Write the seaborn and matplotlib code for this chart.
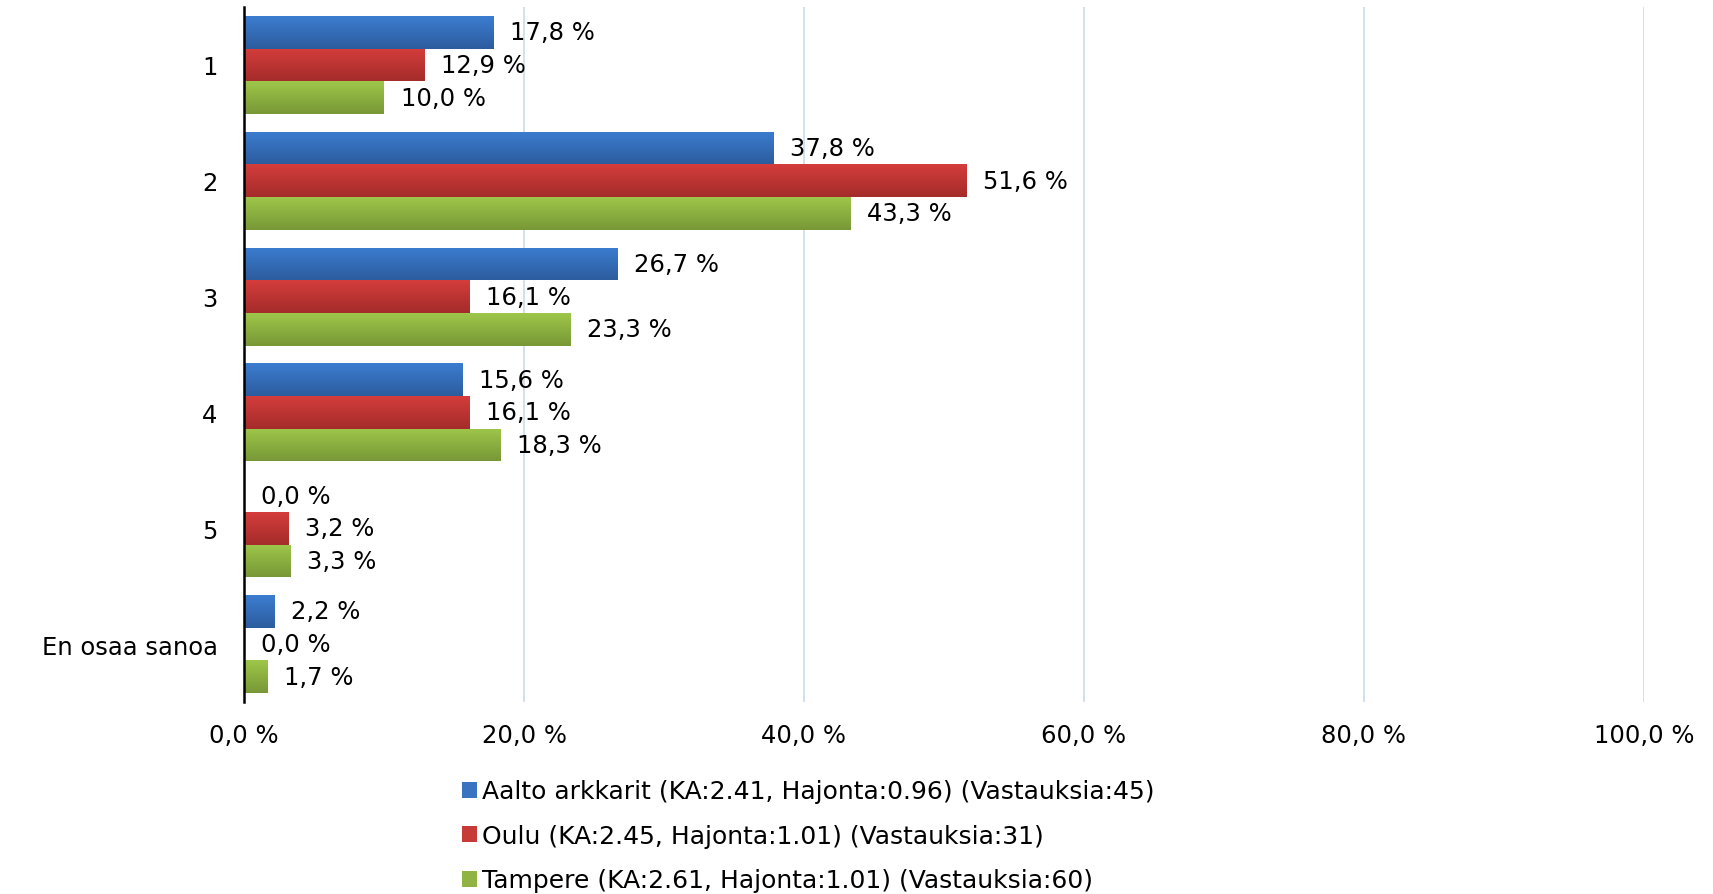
import matplotlib
matplotlib.use("Agg")
import matplotlib.pyplot as plt
import seaborn as sns
import pandas as pd
import numpy as np
from matplotlib.colors import LinearSegmentedColormap
from matplotlib.patches import Patch

categories = ['1', '2', '3', '4', '5', 'En osaa sanoa']
series = ['Aalto arkkarit (KA:2.41, Hajonta:0.96) (Vastauksia:45)',
          'Oulu (KA:2.45, Hajonta:1.01) (Vastauksia:31)',
          'Tampere (KA:2.61, Hajonta:1.01) (Vastauksia:60)']
aalto = [17.8, 37.8, 26.7, 15.6, 0.0, 2.2]
oulu = [12.9, 51.6, 16.1, 16.1, 3.2, 0.0]
tampere = [10.0, 43.3, 23.3, 18.3, 3.3, 1.7]
xticks = [0, 20, 40, 60, 80, 100]

# light (top) -> dark (bottom) for each series
shades = [('#3C7DD0', '#2C5C9E'), ('#D43D3B', '#A42C2A'), ('#9EC64A', '#789836')]
mid = ['#3A74C0', '#C63A38', '#8FB443']

rows = []
for s, vals in zip(series, [aalto, oulu, tampere]):
    for c, v in zip(categories, vals):
        rows.append({'category': c, 'value': v, 'series': s})
df = pd.DataFrame(rows)

sns.set_style('white')
plt.rcParams['font.family'] = ['DejaVu Sans']
plt.rcParams['text.color'] = 'black'
plt.rcParams['xtick.color'] = 'black'
plt.rcParams['ytick.color'] = 'black'

fig = plt.figure(figsize=(17.13, 8.95), dpi=100)
ax = fig.add_axes([244 / 1713, 1 - 703 / 895, 1400 / 1713, 695 / 895])

sns.barplot(data=df, y='category', x='value', hue='series', orient='h',
            palette=mid, width=0.845, gap=0, legend=False, ax=ax,
            saturation=1, linewidth=0)

# gradient fill on every bar
ylim = ax.get_ylim()
for cont, (c1, c2) in zip(ax.containers, shades):
    cmap = LinearSegmentedColormap.from_list('g', [c1, c2])
    grad = np.linspace(0, 1, 64).reshape(-1, 1)
    for p in cont:
        x0, y0, w, h = p.get_x(), p.get_y(), p.get_width(), p.get_height()
        if w <= 0:
            continue
        im = ax.imshow(grad, cmap=cmap, aspect='auto', origin='upper',
                       extent=(x0, x0 + w, y0 + h, y0), zorder=3)
        im.set_clip_path(p)

for cont, vals in zip(ax.containers, [aalto, oulu, tampere]):
    ax.bar_label(cont, labels=[f"{v:.1f} %".replace('.', ',') for v in vals],
                 padding=12, fontsize=17.5, color='black')

ax.set_ylim(ylim)
ax.set_xlim(0, 100)
ax.set_xticks(xticks)
ax.set_xticklabels([f"{t:.1f} %".replace('.', ',') for t in xticks])
ax.grid(axis='x', color='#C9DAEE', linewidth=1.2)
ax.set_axisbelow(True)
for sp in ['top', 'right', 'bottom']:
    ax.spines[sp].set_visible(False)
ax.spines['left'].set_color('black')
ax.spines['left'].set_linewidth(1.8)
ax.spines['left'].set_zorder(5)
ax.tick_params(axis='x', length=0, pad=15, labelsize=17.5)
ax.tick_params(axis='y', length=0, pad=19, labelsize=17.5)
ax.set_xlabel('')
ax.set_ylabel('')

handles = [Patch(facecolor=c, edgecolor='none') for c in mid]
fig.legend(handles, series, loc='upper left',
           bbox_to_anchor=(449 / 1713, 1 - 768 / 895), frameon=False,
           fontsize=18, handlelength=0.6, handleheight=0.6,
           handletextpad=0.2, labelspacing=0.82, borderpad=0)

fig.savefig('out.png', dpi=100)
